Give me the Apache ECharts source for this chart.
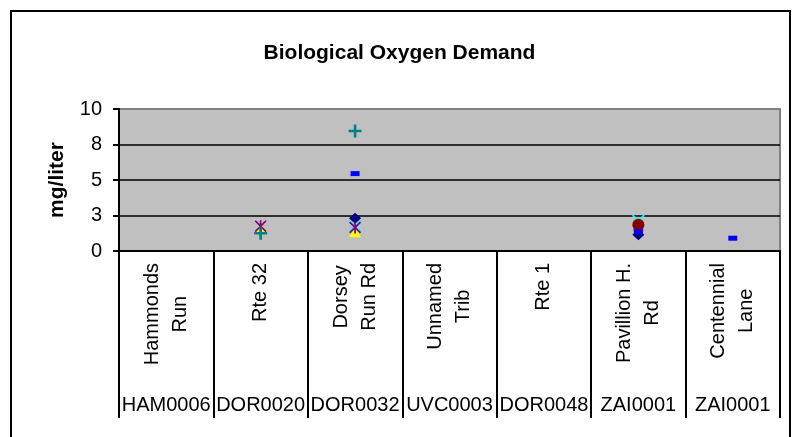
<!DOCTYPE html>
<html>
<head>
<meta charset="utf-8">
<script src="https://cdn.jsdelivr.net/npm/echarts@6/dist/echarts.min.js"></script>
<style>
html,body{margin:0;padding:0;background:#fff;}
#chart{width:799px;height:437px;}
</style>
</head>
<body>
<div id="chart"></div>
<script>
// ---- data ----
const stations = ['Hammonds\nRun', 'Rte 32', 'Dorsey\nRun Rd', 'Unnamed\nTrib', 'Rte 1', 'Pavillion H.\nRd', 'Centennial\nLane'];
const stationCodes = ['HAM0006', 'DOR0020', 'DOR0032', 'UVC0003', 'DOR0048', 'ZAI0001', 'ZAI0001'];
const yTicks = [0, 2.5, 5, 7.5, 10];
const seriesNames = ['Series1', 'Series2', 'Series3', 'Series4', 'Series5', 'Series6', 'Series7', 'Series8'];
const s1 = [null, null, 2.3, null, null, 1.15, null];
const s2 = [null, null, null, null, null, 1.75, null];
const s3 = [null, 1.6, 1.35, null, null, null, null];
const s4 = [null, null, 1.75, null, null, 2.15, null];
const s5 = [null, 1.75, 1.65, null, null, null, null];
const s6 = [null, null, null, null, null, 1.85, null];
const s7 = [null, 1.25, 8.45, null, null, null, null];
const s8 = [null, null, 5.45, null, null, 1.35, 0.9];
const seriesValues = [s1, s2, s3, s4, s5, s6, s7, s8];

// ---- styles ----
const FONT = 'Liberation Sans, Arial, sans-serif';
const xPath = 'path://M0,1L1,0L5,4L9,0L10,1L6,5L10,9L9,10L5,6L1,10L0,9L4,5Z';
const starPath = 'path://M0,1L1,0L5,4L9,0L10,1L6,5L10,9L9,10L5,6L1,10L0,9L4,5ZM4.3,0L5.7,0L5.7,10L4.3,10Z';
const plusPath = 'path://M4,0L6,0L6,4L10,4L10,6L6,6L6,10L4,10L4,6L0,6L0,4L4,4Z';
const markers = [
  {symbol: 'diamond', size: [12, 11], color: '#000080'},
  {symbol: 'rect', size: [10, 10], color: '#FF00FF'},
  {symbol: 'triangle', size: [12, 11], color: '#FFFF00'},
  {symbol: xPath, size: [13, 12], color: '#00FFFF'},
  {symbol: starPath, size: [12, 12], color: '#800080'},
  {symbol: 'circle', size: [12, 12], color: '#800000'},
  {symbol: plusPath, size: [13, 13], color: '#008080'},
  {symbol: 'rect', size: [9, 5], color: '#0000FF'}
];

const chart = echarts.init(document.getElementById('chart'), null, {renderer: 'canvas'});

const series = seriesValues.map((vals, i) => ({
  name: seriesNames[i],
  type: 'scatter',
  xAxisIndex: 0,
  yAxisIndex: 0,
  data: vals,
  symbol: markers[i].symbol,
  symbolSize: markers[i].size,
  itemStyle: {color: markers[i].color, opacity: 1},
  emphasis: {disabled: true},
  z: 3
}));

const option = {
  animation: false,
  backgroundColor: '#ffffff',
  title: {
    text: 'Biological Oxygen Demand',
    left: 'center',
    top: 38,
    textStyle: {fontFamily: FONT, fontWeight: 'bold', fontSize: 21, color: '#000'}
  },
  graphic: [{
    type: 'rect',
    shape: {x: 11, y: 11, width: 779, height: 460},
    style: {fill: null, stroke: '#000', lineWidth: 2},
    silent: true,
    z: 100
  }],
  grid: {
    left: 119, right: 19, top: 109, bottom: 186,
    show: true,
    backgroundColor: '#C0C0C0',
    borderColor: '#808080',
    borderWidth: 2
  },
  xAxis: [{
    type: 'category',
    data: stations,
    boundaryGap: true,
    position: 'bottom',
    axisLine: {show: true, lineStyle: {color: '#000', width: 2}},
    axisTick: {show: true, interval: 0, length: 167, lineStyle: {color: '#000', width: 2}},
    splitLine: {show: false},
    axisLabel: {
      interval: 0,
      rotate: 90,
      margin: 12,
      fontFamily: FONT,
      fontSize: 20,
      lineHeight: 28,
      color: '#000',
      formatter: v => v.split('\n').map(s => '{c|' + s + '}').join('\n'),
      rich: {c: {align: 'center', fontFamily: FONT, fontSize: 20, lineHeight: 28, color: '#000'}}
    }
  }, {
    type: 'category',
    data: stationCodes,
    boundaryGap: true,
    position: 'bottom',
    gridIndex: 0,
    axisLine: {show: false},
    axisTick: {show: false},
    splitLine: {show: false},
    axisLabel: {
      interval: 0,
      margin: 144,
      fontFamily: FONT,
      fontSize: 20,
      color: '#000'
    }
  }],
  yAxis: {
    type: 'value',
    min: yTicks[0],
    max: yTicks[yTicks.length - 1],
    interval: yTicks[1] - yTicks[0],
    name: 'mg/liter',
    nameLocation: 'middle',
    nameRotate: 90,
    nameGap: 51,
    nameTextStyle: {fontFamily: FONT, fontWeight: 'bold', fontSize: 21, color: '#000'},
    axisLine: {show: true, lineStyle: {color: '#000', width: 2}},
    axisTick: {show: true, length: 6, lineStyle: {color: '#000', width: 2}},
    splitLine: {show: true, showMinLine: false, showMaxLine: false, lineStyle: {color: '#000', width: 1.5}},
    axisLabel: {
      margin: 17,
      fontFamily: FONT,
      fontSize: 20,
      color: '#000',
      formatter: v => String(Math.round(v))
    }
  },
  series: series
};
chart.setOption(option);
</script>
</body>
</html>
